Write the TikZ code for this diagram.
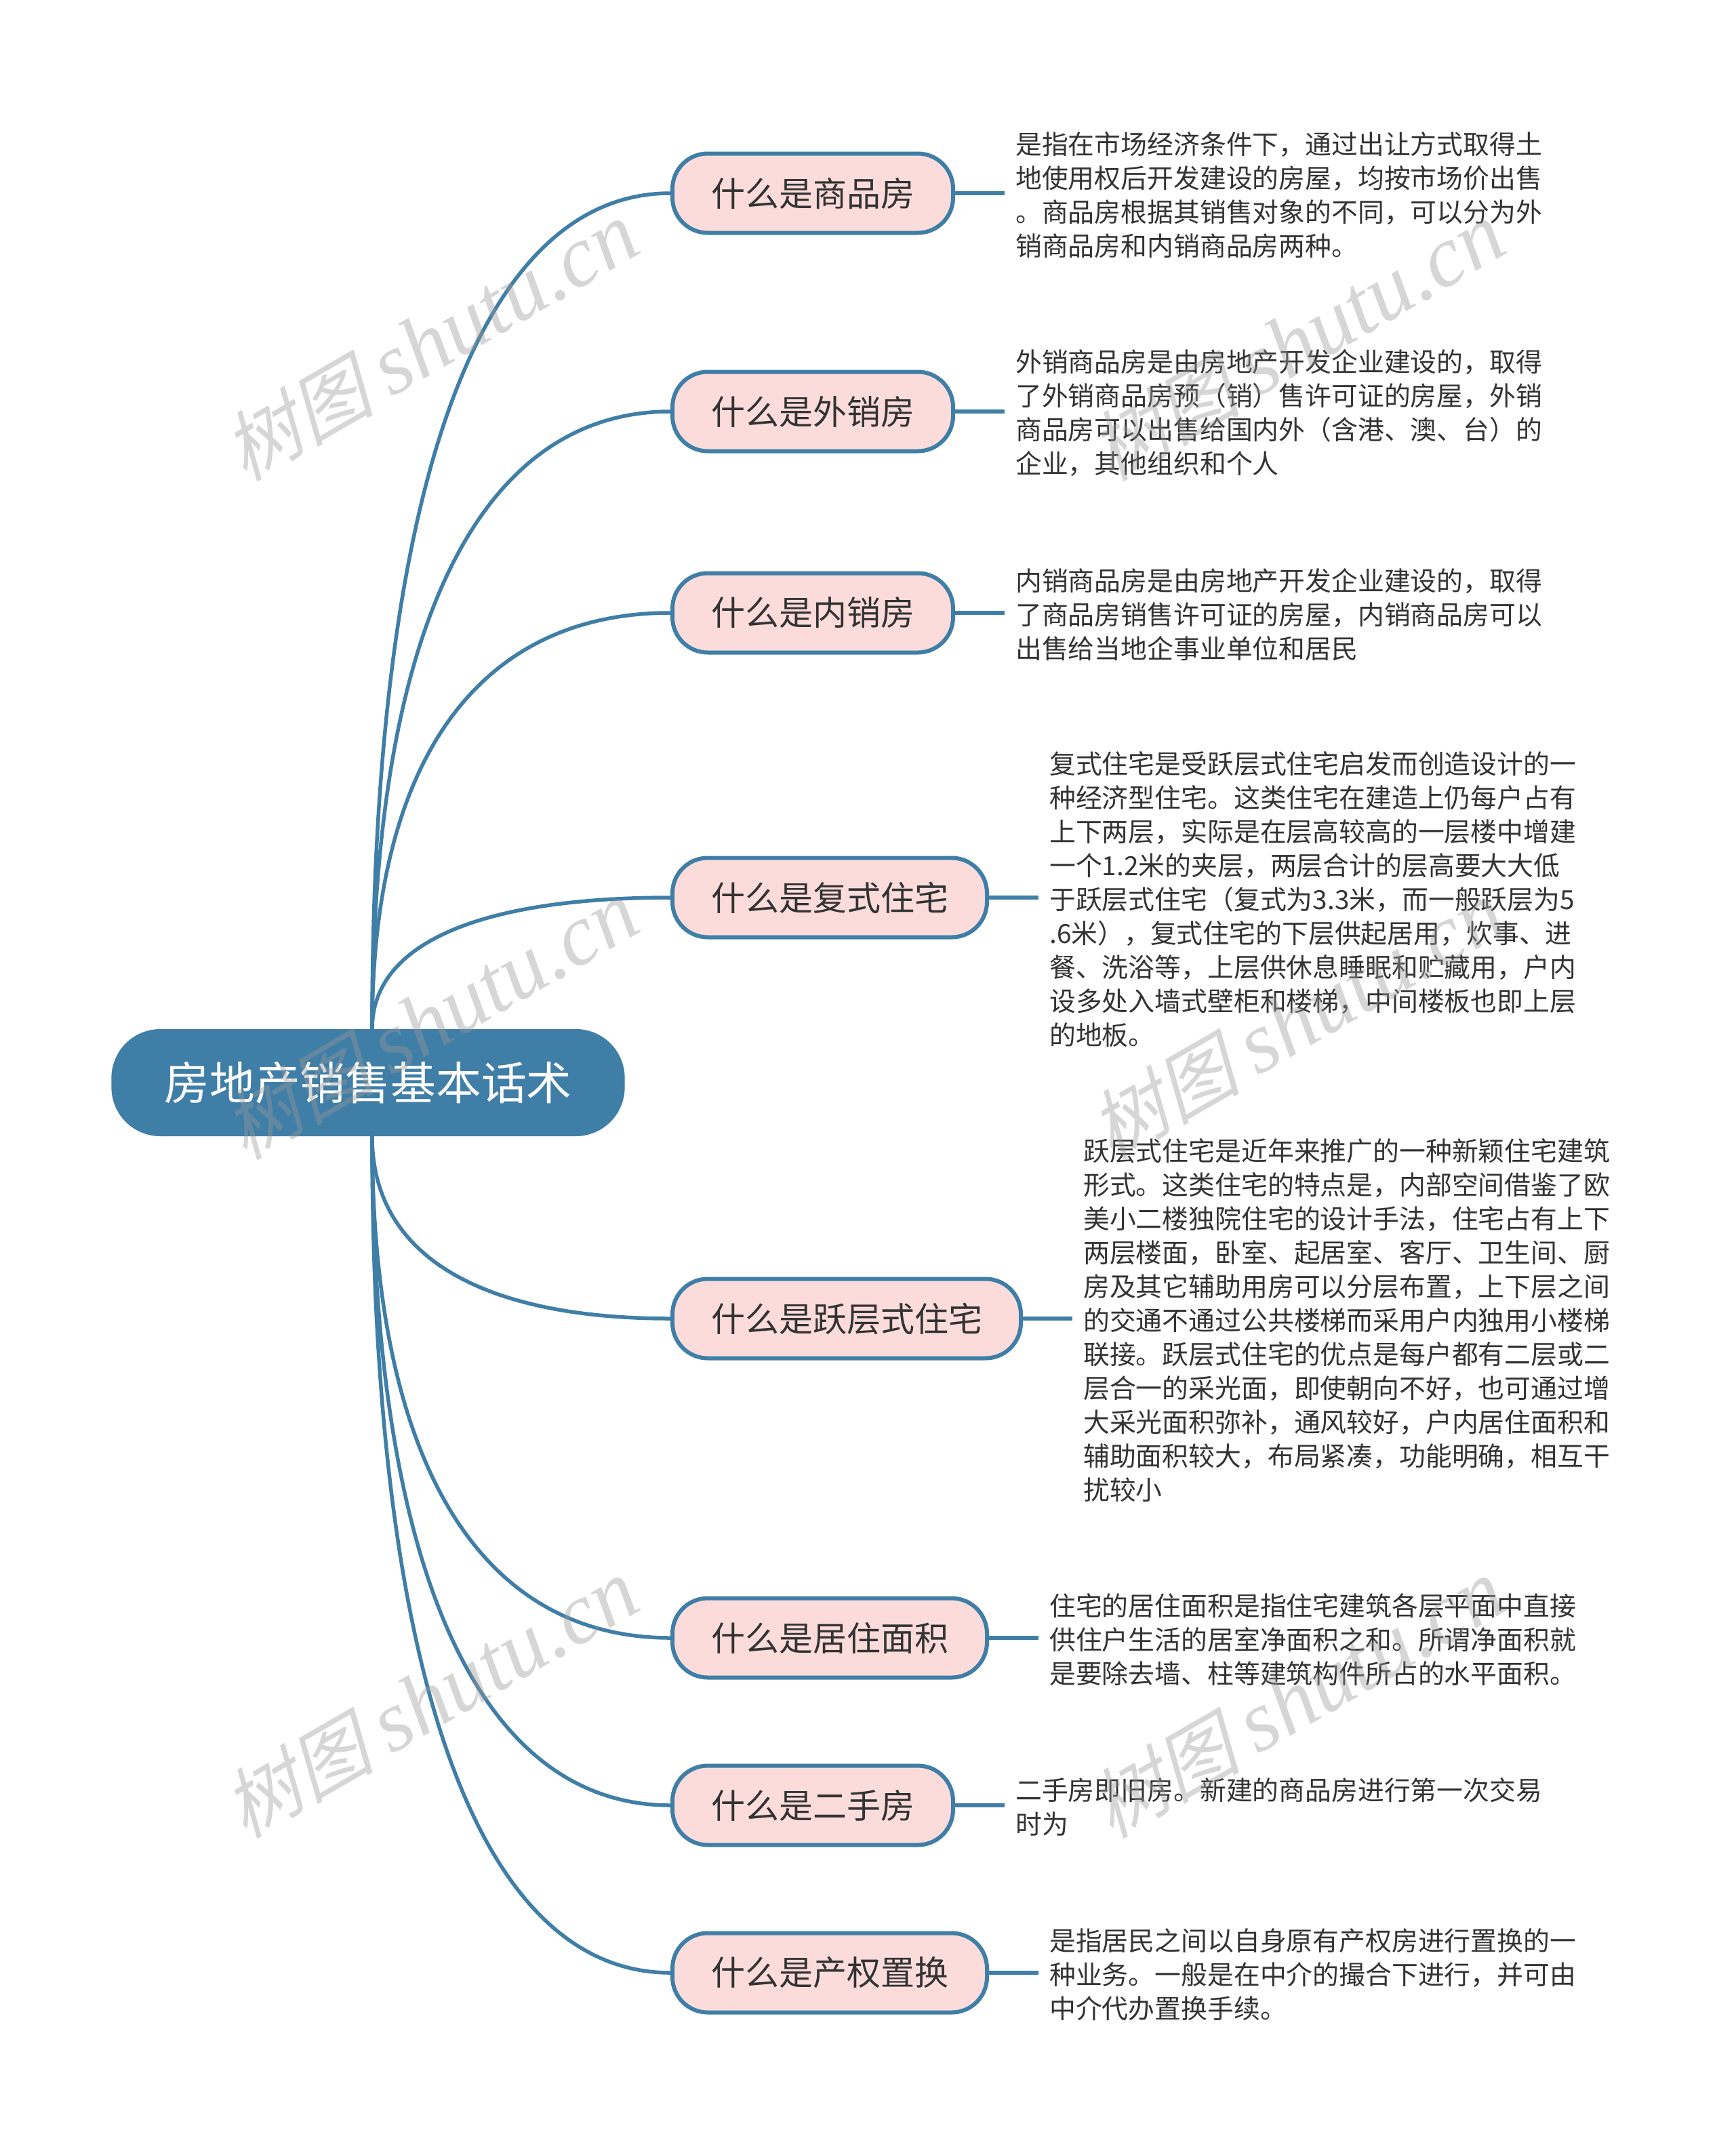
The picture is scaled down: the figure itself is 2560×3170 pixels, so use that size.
\documentclass[tikz,border=0pt]{standalone}
\usepackage{fontspec}
\setmainfont{Noto Sans CJK SC}
\newfontfamily\markcjk[FakeSlant=0.25]{Noto Sans CJK SC}
\newfontfamily\marklatin{Liberation Serif}
\usetikzlibrary{positioning, calc}

\definecolor{deepblue}{HTML}{3F7EA6}
\definecolor{softpink}{HTML}{FBDCDB}

\newcommand{\stamptext}{{\markcjk\fontsize{112}{120}\selectfont 树图}\hspace{26pt}{\marklatin\itshape shutu.cn}}

\begin{document}
\begin{tikzpicture}[
        x=1pt, y=1pt,
        root/.style={fill=deepblue, text=white, rounded corners=72pt, minimum height=158pt, inner xsep=78pt, font=\fontsize{66.8}{80}\selectfont},
        topic/.style={draw=deepblue, line width=6pt, fill=softpink, text=black!80, rounded corners=52pt, minimum height=117pt, inner xsep=57pt, font=\fontsize{50}{60}\selectfont},
        leaf/.style={align=left, text=black!80, inner xsep=16pt, inner ysep=0pt, yshift=-2.5pt, font=\fontsize{38.85}{50}\selectfont},
        line/.style={-, draw=deepblue, line width=5.5pt},
        trunk/.style={to path={.. controls ($(\tikztostart)!.67!(\tikztostart |- \tikztotarget)$) and ($(\tikztotarget)!.62!(\tikztostart |- \tikztotarget)$) .. (\tikztotarget)}},
        stamp/.style={rotate=30, anchor=base, text=black!40, opacity=0.4, inner sep=0pt, font=\fontsize{128}{140}\selectfont}
    ]
        \useasboundingbox (0,0) rectangle (2560,-3170);
        % Centre
        \node[root] (root) at (543,-1597) {房地产销售基本话术};
        \coordinate (up) at ($(root.north)+(6,0)$);
        \coordinate (down) at ($(root.south)+(6,0)$);

        % Topics
        \node[topic, anchor=west] (t1) at (989,-285) {什么是商品房};
        \node[topic, below=322pt of t1.west, anchor=west] (t2) {什么是外销房};
        \node[topic, below=297pt of t2.west, anchor=west] (t3) {什么是内销房};
        \node[topic, below=420pt of t3.west, anchor=west] (t4) {什么是复式住宅};
        \node[topic, below=621pt of t4.west, anchor=west] (t5) {什么是跃层式住宅};
        \node[topic, below=471pt of t5.west, anchor=west] (t6) {什么是居住面积};
        \node[topic, below=247pt of t6.west, anchor=west] (t7) {什么是二手房};
        \node[topic, below=247pt of t7.west, anchor=west] (t8) {什么是产权置换};

        % Details
        \node[leaf, right=73pt of t1] (l1) {是指在市场经济条件下，通过出让方式取得土\\地使用权后开发建设的房屋，均按市场价出售\\。商品房根据其销售对象的不同，可以分为外\\销商品房和内销商品房两种。};
        \node[leaf, right=73pt of t2] (l2) {外销商品房是由房地产开发企业建设的，取得\\了外销商品房预（销）售许可证的房屋，外销\\商品房可以出售给国内外（含港、澳、台）的\\企业，其他组织和个人};
        \node[leaf, right=73pt of t3] (l3) {内销商品房是由房地产开发企业建设的，取得\\了商品房销售许可证的房屋，内销商品房可以\\出售给当地企事业单位和居民};
        \node[leaf, right=73pt of t4] (l4) {复式住宅是受跃层式住宅启发而创造设计的一\\种经济型住宅。这类住宅在建造上仍每户占有\\上下两层，实际是在层高较高的一层楼中增建\\一个1.2米的夹层，两层合计的层高要大大低\\于跃层式住宅（复式为3.3米，而一般跃层为5\\.6米），复式住宅的下层供起居用，炊事、进\\餐、洗浴等，上层供休息睡眠和贮藏用，户内\\设多处入墙式壁柜和楼梯，中间楼板也即上层\\的地板。};
        \node[leaf, right=73pt of t5] (l5) {跃层式住宅是近年来推广的一种新颖住宅建筑\\形式。这类住宅的特点是，内部空间借鉴了欧\\美小二楼独院住宅的设计手法，住宅占有上下\\两层楼面，卧室、起居室、客厅、卫生间、厨\\房及其它辅助用房可以分层布置，上下层之间\\的交通不通过公共楼梯而采用户内独用小楼梯\\联接。跃层式住宅的优点是每户都有二层或二\\层合一的采光面，即使朝向不好，也可通过增\\大采光面积弥补，通风较好，户内居住面积和\\辅助面积较大，布局紧凑，功能明确，相互干\\扰较小};
        \node[leaf, right=73pt of t6] (l6) {住宅的居住面积是指住宅建筑各层平面中直接\\供住户生活的居室净面积之和。所谓净面积就\\是要除去墙、柱等建筑构件所占的水平面积。};
        \node[leaf, right=73pt of t7] (l7) {二手房即旧房。新建的商品房进行第一次交易\\时为};
        \node[leaf, right=73pt of t8] (l8) {是指居民之间以自身原有产权房进行置换的一\\种业务。一般是在中介的撮合下进行，并可由\\中介代办置换手续。};

        % Connectors
        \draw[line] (up) to[trunk] (t1.west);
        \draw[line] (up) to[trunk] (t2.west);
        \draw[line] (up) to[trunk] (t3.west);
        \draw[line] (up) to[trunk] (t4.west);
        \draw[line] (down) to[trunk] (t5.west);
        \draw[line] (down) to[trunk] (t6.west);
        \draw[line] (down) to[trunk] (t7.west);
        \draw[line] (down) to[trunk] (t8.west);
        \draw[line] (t1.east) -- (t1.east -| l1.west);
        \draw[line] (t2.east) -- (t2.east -| l2.west);
        \draw[line] (t3.east) -- (t3.east -| l3.west);
        \draw[line] (t4.east) -- (t4.east -| l4.west);
        \draw[line] (t5.east) -- (t5.east -| l5.west);
        \draw[line] (t6.east) -- (t6.east -| l6.west);
        \draw[line] (t7.east) -- (t7.east -| l7.west);
        \draw[line] (t8.east) -- (t8.east -| l8.west);

        % Stamps
        \node[stamp] (m1) at (656,-541) {\stamptext};
        \node[stamp] (m2) at (1934,-541) {\stamptext};
        \node[stamp] (m3) at (656,-1542) {\stamptext};
        \node[stamp] (m4) at (1934,-1542) {\stamptext};
        \node[stamp] (m5) at (656,-2543) {\stamptext};
        \node[stamp] (m6) at (1934,-2543) {\stamptext};
    \end{tikzpicture}
\end{document}
